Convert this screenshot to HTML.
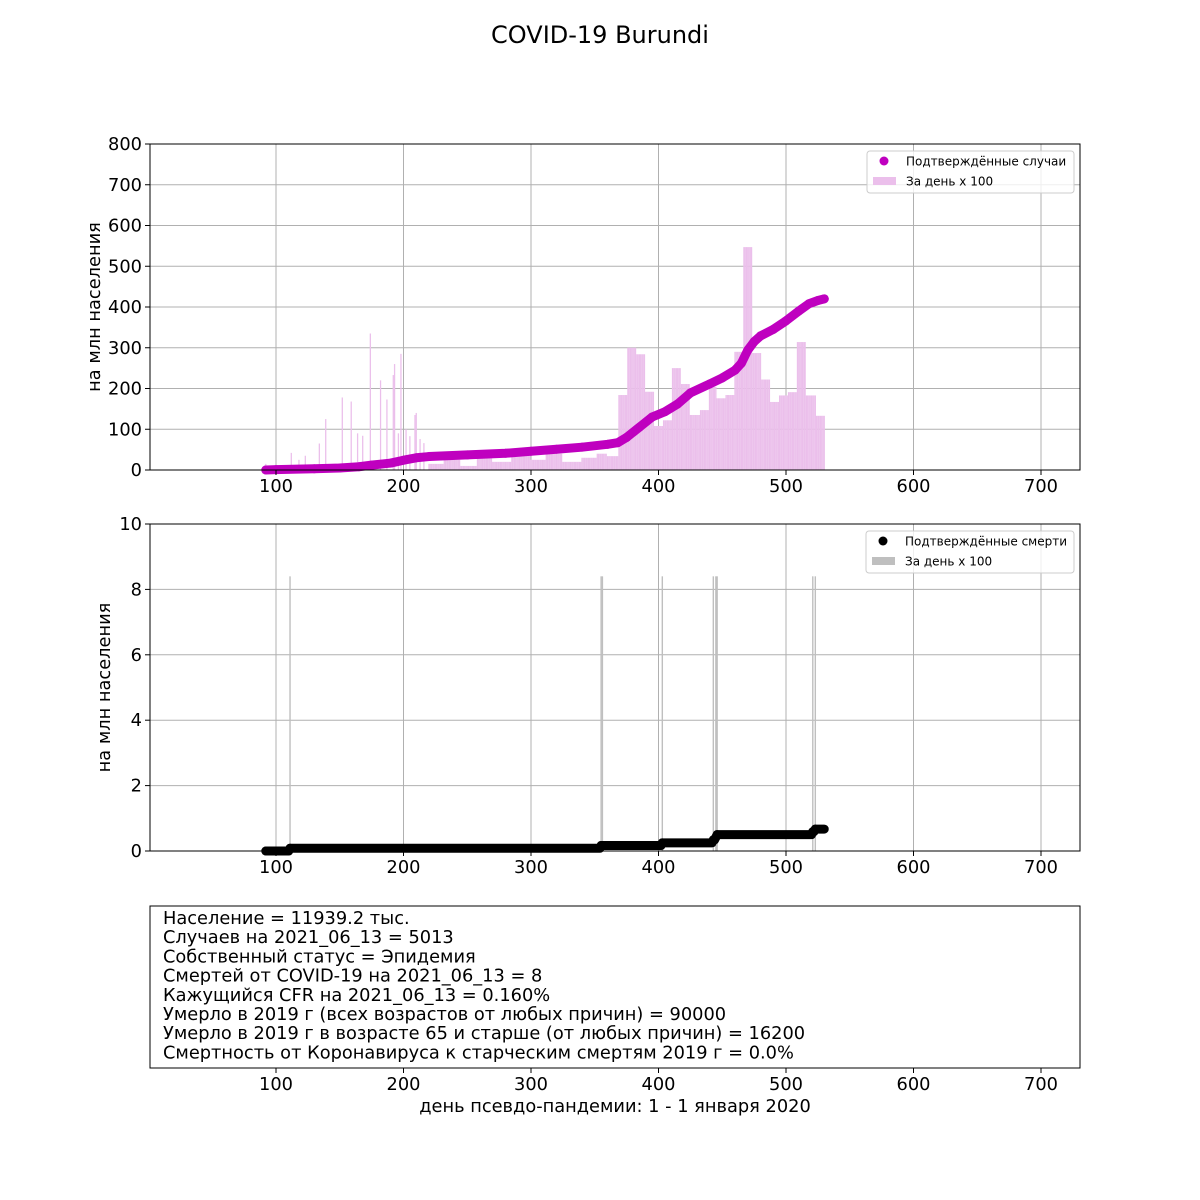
<!DOCTYPE html>
<html><head><meta charset="utf-8"><style>
body{margin:0;background:#fff}
svg{display:block;font-family:"DejaVu Sans","Liberation Sans",sans-serif}
</style></head><body>
<svg id="fig" width="1200" height="1200" viewBox="0 0 1200 1200">
<text x="600" y="43" font-size="24" text-anchor="middle">COVID-19 Burundi</text>
<g id="top"></g>
<g id="mid"></g>
<g id="bot"></g>
</svg>
<script>
// ---- data ----
const caseDays=[92,100,130,150,165,175,190,200,210,220,250,280,300,320,340,360,368,375,385,395,405,415,425,440,450,460,465,470,475,480,490,500,510,518,525,530];
const caseVals=[0,1,3,5,8,12,17,24,30,33,37,41,46,51,56,63,67,80,105,130,143,162,189,211,226,245,262,294,315,329,345,366,390,408,416,420];
const spikeDays=[92,112,118,123,134,139,152,159,164,168,174,182,187,192,193,196,198,202,205,209,210,213,216];
const spikeVals=[15,42,25,35,65,125,178,168,90,84,335,220,173,233,260,90,285,100,83,135,140,76,66];
const segStart=[220,232,245,258,270,285,300,312,325,340,352,360,369,376,383,390,397,404,411,418,425,433,440,446,453,460,467,474,481,488,495,502,509,516,524];
const segEnd=[231,244,257,269,284,299,311,324,339,351,359,368,375,382,389,396,403,410,417,424,432,439,445,452,459,466,473,480,487,494,501,508,515,523,530];
const segVals=[15,25,10,30,20,35,25,40,20,30,40,34,184,300,284,192,108,122,250,211,135,147,204,176,184,290,547,287,222,167,183,191,314,183,133];
const deathDays=[92,111,355,403,443,445,446,521,523];
const deathCum=[0,0.084,0.168,0.25,0.34,0.42,0.5,0.59,0.67];
const deathDailyDays=[111,355,356,403,443,445,446,521,523];
const deathDailyVals=[8.4,8.4,8.4,8.4,8.4,8.4,8.4,8.4,8.4];
const xTicks=[100,200,300,400,500,600,700];
const caseTicks=[0,100,200,300,400,500,600,700,800];
const deathTicks=[0,2,4,6,8,10];
const infoLines=["Население = 11939.2 тыс.","Случаев на 2021_06_13 = 5013","Собственный статус = Эпидемия","Смертей от COVID-19 на 2021_06_13 = 8","Кажущийся CFR на 2021_06_13 = 0.160%","Умерло в 2019 г (всех возрастов от любых причин) = 90000","Умерло в 2019 г в возрасте 65 и старше (от любых причин) = 16200","Смертность от Коронавируса к старческим смертям 2019 г = 0.0%"];

const NS="http://www.w3.org/2000/svg";
const L=150,R=1080,FS=17.8;
const X=d=>148.5+d*1.275;
function mk(p,t,a){const e=document.createElementNS(NS,t);for(const k in a)e.setAttribute(k,a[k]);p.appendChild(e);return e;}
function axes(g,top,bot,ticks,yf){
  xTicks.forEach(t=>{const l=mk(g,'line',{x1:X(t),x2:X(t),y1:top,y2:bot,stroke:'#b0b0b0','stroke-width':1});
  
  });
  ticks.forEach(t=>{const l=mk(g,'line',{x1:L,x2:R,y1:yf(t),y2:yf(t),stroke:'#b0b0b0','stroke-width':1});
  
  });
}
function frame(g,top,bot,ticks,yf,ylabel,ylx){
  const r=mk(g,'rect',{x:L,y:top,width:R-L,height:bot-top,fill:'none',stroke:'#000','stroke-width':1});
  
  
  xTicks.forEach(t=>{mk(g,'line',{x1:X(t),x2:X(t),y1:bot,y2:bot+5,stroke:'#000'});
    const tx=mk(g,'text',{x:X(t),y:bot+22,'font-size':FS,'text-anchor':'middle'});tx.textContent=t;
    
    });
  if(ticks){ticks.forEach(t=>{mk(g,'line',{x1:L-5,x2:L,y1:yf(t),y2:yf(t),stroke:'#000'});
    const tx=mk(g,'text',{x:L-8,y:yf(t)+6,'font-size':FS,'text-anchor':'end'});tx.textContent=t;
    
    });
  const yl=mk(g,'text',{x:0,y:0,'font-size':FS,'text-anchor':'middle',transform:`translate(${ylx},${(top+bot)/2}) rotate(-90)`});
  yl.textContent=ylabel;
  
  }
}
function legend(g,x,y,w,items){
  const b=mk(g,'rect',{x:x,y:y,width:w,height:42,rx:3,fill:'#fff','fill-opacity':0.8,stroke:'#ccc'});
  
  
  items.forEach((it,i)=>{const cy=y+10+i*20;
    if(it.type==='dot'){mk(g,'circle',{cx:x+17,cy:cy,r:4.5,fill:it.c});}
    else mk(g,'rect',{x:x+6,y:cy-4,width:23,height:8,fill:it.c});
    const t=mk(g,'text',{x:x+39,y:cy+4.5,'font-size':12});t.textContent=it.t;
    
    });
}
// ---- top chart ----
(function(){
  const g=document.getElementById('top');const top=144,bot=470;
  const Y=v=>bot-v*(bot-top)/800;
  axes(g,top,bot,caseTicks,Y);
  const bw=1.275;
  segStart.forEach((s,i)=>{for(let d=s;d<=segEnd[i];d++){const r=mk(g,'rect',{x:X(d)-bw/2,y:Y(segVals[i]),width:bw,height:bot-Y(segVals[i]),fill:'#ebbfeb'});
    
    }});
  spikeDays.forEach((d,i)=>{const r=mk(g,'rect',{x:X(d)-bw/2,y:Y(spikeVals[i]),width:bw,height:bot-Y(spikeVals[i]),fill:'#ebbfeb'});
    
    });
  const pts=caseDays.map((d,i)=>X(d)+','+Y(caseVals[i])).join(' ');
  const pl=mk(g,'polyline',{points:pts,fill:'none',stroke:'#bf00bf','stroke-width':9,'stroke-linejoin':'round','stroke-linecap':'round'});
  
  
  caseDays.forEach((d,i)=>{const c=mk(g,'circle',{cx:X(d),cy:Y(caseVals[i]),r:4.5,fill:'#bf00bf'});
    
    });
  frame(g,top,bot,caseTicks,Y,'на млн населения',100);
  legend(g,867,151,207,[{type:'dot',c:'#bf00bf',t:'Подтверждённые случаи'},{type:'bar',c:'#ebbfeb',t:'За день x 100'}]);
})();
// ---- middle chart ----
(function(){
  const g=document.getElementById('mid');const top=524,bot=851;
  const Y=v=>bot-v*(bot-top)/10;
  axes(g,top,bot,deathTicks,Y);
  deathDailyDays.forEach((d,i)=>{const r=mk(g,'rect',{x:X(d)-0.7,y:Y(deathDailyVals[i]),width:1.4,height:bot-Y(deathDailyVals[i]),fill:'#bfbfbf'});
    
    });
  const pts=[];
  deathDays.forEach((d,i)=>{const next=i+1<deathDays.length?deathDays[i+1]:531;
    pts.push(X(d)+','+Y(deathCum[i]));pts.push(X(next-1)+','+Y(deathCum[i]));});
  const pl=mk(g,'polyline',{points:pts.join(' '),fill:'none',stroke:'#000','stroke-width':9,'stroke-linejoin':'round','stroke-linecap':'round'});
  
  
  deathDays.forEach((d,i)=>{const c=mk(g,'circle',{cx:X(d),cy:Y(deathCum[i]),r:4.5,fill:'#000'});
    
    });
  frame(g,top,bot,deathTicks,Y,'на млн населения',110);
  legend(g,866,531,208,[{type:'dot',c:'#000',t:'Подтверждённые смерти'},{type:'bar',c:'#bfbfbf',t:'За день x 100'}]);
})();
// ---- info panel ----
(function(){
  const g=document.getElementById('bot');const top=906,bot=1068;
  frame(g,top,bot,null,null,'',0);
  infoLines.forEach((s,i)=>{const t=mk(g,'text',{x:163,y:924+i*19.2,'font-size':FS});t.textContent=s;
    
    });
  const xl=mk(g,'text',{x:615,y:1112,'font-size':FS,'text-anchor':'middle'});
  xl.textContent='день псевдо-пандемии: 1 - 1 января 2020';
  
  
})();
</script>
</body></html>
